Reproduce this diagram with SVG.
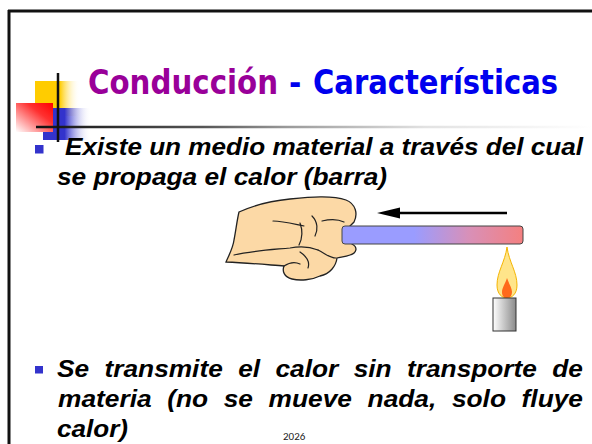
<svg xmlns="http://www.w3.org/2000/svg" width="592" height="444" viewBox="0 0 592 444">
<defs>
<style>
.body{font-family:"Liberation Sans",Arial,sans-serif;font-weight:bold;font-style:italic;font-size:24px;fill:#000}
.title{font-family:"DejaVu Sans Condensed","DejaVu Sans",sans-serif;font-weight:bold;font-size:33px}
.bullet{fill:#3333cc}
.crease{fill:none;stroke:#222;stroke-width:1.2;stroke-linecap:round}
</style>
<linearGradient id="gYel" x1="0" y1="0" x2="1" y2="0">
<stop offset="0" stop-color="#ffcc00"/><stop offset="0.55" stop-color="#ffcc00"/><stop offset="1" stop-color="#ffffff" stop-opacity="0"/>
</linearGradient>
<linearGradient id="gRed" x1="1" y1="0" x2="0" y2="1">
<stop offset="0" stop-color="#ff0000"/><stop offset="0.35" stop-color="#ff3030"/><stop offset="1" stop-color="#ffffff"/>
</linearGradient>
<linearGradient id="gBlue" x1="0" y1="0" x2="1" y2="0">
<stop offset="0" stop-color="#3333cc"/><stop offset="0.45" stop-color="#3333cc"/><stop offset="1" stop-color="#ffffff" stop-opacity="0"/>
</linearGradient>
<linearGradient id="gLine" gradientUnits="userSpaceOnUse" x1="36" y1="0" x2="592" y2="0">
<stop offset="0" stop-color="#111"/><stop offset="0.3" stop-color="#555"/><stop offset="0.45" stop-color="#999"/><stop offset="0.7" stop-color="#e2e2e2"/><stop offset="1" stop-color="#fff"/>
</linearGradient>
<linearGradient id="gBar" x1="0" y1="0" x2="1" y2="0">
<stop offset="0" stop-color="#9a9cff"/><stop offset="0.4" stop-color="#9a9cff"/><stop offset="0.7" stop-color="#d890b8"/><stop offset="1" stop-color="#f48080"/>
</linearGradient>
<linearGradient id="gCandle" x1="0" y1="0" x2="1" y2="0">
<stop offset="0" stop-color="#ffffff"/><stop offset="1" stop-color="#8a8a8a"/>
</linearGradient>
</defs>
<rect width="592" height="444" fill="#fff"/>
<g id="frame" stroke="#111" stroke-width="3" fill="none">
<line x1="8" y1="11" x2="592" y2="11"/>
<line x1="9" y1="10" x2="9" y2="444"/>
</g>
<g id="decoration">
<rect x="35" y="81" width="45" height="35" fill="url(#gYel)"/>
<rect x="43" y="108" width="48" height="32" fill="url(#gBlue)"/>
<rect x="16" y="103" width="37" height="29" fill="url(#gRed)"/>
<line x1="36" y1="127" x2="592" y2="127" stroke="url(#gLine)" stroke-width="2.5"/>
<line x1="58" y1="73" x2="58" y2="142" stroke="#111" stroke-width="2.5"/>
</g>
<g id="title">
<text class="title" x="88" y="94" fill="#990099" textLength="190" lengthAdjust="spacingAndGlyphs">Conducción</text>
<text class="title" x="289" y="94" fill="#0000ee">-</text>
<text class="title" x="313" y="94" fill="#0000ee" textLength="245" lengthAdjust="spacingAndGlyphs">Características</text>
</g>
<g id="bullet1">
<rect class="bullet" x="35" y="145" width="8.5" height="8.5"/>
<text class="body" x="65" y="155" textLength="518" lengthAdjust="spacingAndGlyphs">Existe un medio material a través del cual</text>
<text class="body" x="57" y="185" textLength="330" lengthAdjust="spacingAndGlyphs">se propaga el calor (barra)</text>
</g>
<g id="illustration">
<g id="arrow">
<line x1="507" y1="213" x2="396" y2="213" stroke="#000" stroke-width="2.5"/>
<polygon points="377,213 400,207.5 400,218.5" fill="#000"/>
</g>
<g id="hand">
<path d="M239,212 C252,206 270,201 290,199 C310,197 332,195 346,200 C356,204 358,214 354,222 L350,226 L352,244 C358,247 357,253 350,255 C345,257 340,257 337,258 C336,266 330,274 320,276 C312,280 300,281 292,279 C284,277 282,271 284,266 C270,265 248,263 226,262 C229,255 233,248 234,240 C236,230 237,220 239,212 Z" fill="#fcd9a6" stroke="#222" stroke-width="1.3"/>
<path class="crease" d="M273,221 C283,221 294,224 304,226"/>
<path class="crease" d="M300,223 C303,231 302,239 299,245"/>
<path class="crease" d="M312,216 C318,222 318,230 315,236"/>
<path class="crease" d="M322,221 C330,219 338,219 344,222"/>
<path class="crease" d="M234,255 C250,251 268,250 290,248 C300,246 308,246 318,250"/>
<path class="crease" d="M300,252 C306,256 310,262 308,268"/>
<path class="crease" d="M318,250 C326,254 330,258 336,258"/>
<path class="crease" d="M284,266 C290,262 296,262 300,264"/>
</g>
<g id="bar">
<rect x="342" y="226" width="181" height="18" rx="3" fill="url(#gBar)" stroke="#444" stroke-width="1"/>
</g>
<g id="candle">
<path d="M507,247 C505,262 497,272 497,285 C497,294 502,298 507,298 C512,298 517,294 517,285 C517,272 509,262 507,247 Z" fill="#ffe58a" stroke="#f4b400" stroke-width="1"/>
<path d="M507,278 C505,284 502,288 502,292 C502,296 504,298 507,298 C510,298 512,296 512,292 C512,288 509,284 507,278 Z" fill="#ff6a1a"/>
<rect x="493" y="298" width="23" height="33" fill="url(#gCandle)" stroke="#333" stroke-width="1"/>
</g>
</g>
<g id="bullet2">
<rect class="bullet" x="35" y="366" width="8" height="7.5"/>
<text class="body" x="57" y="377" word-spacing="7.4" textLength="526" lengthAdjust="spacingAndGlyphs">Se transmite el calor sin transporte de</text>
<text class="body" x="58" y="407" word-spacing="7.6" textLength="525" lengthAdjust="spacingAndGlyphs">materia (no se mueve nada, solo fluye</text>
<text class="body" x="57" y="437" textLength="71" lengthAdjust="spacingAndGlyphs">calor)</text>
</g>
<text id="footer" x="283" y="440" font-family="Carlito,'Liberation Sans',sans-serif" font-size="11" fill="#222">2026</text>
</svg>
